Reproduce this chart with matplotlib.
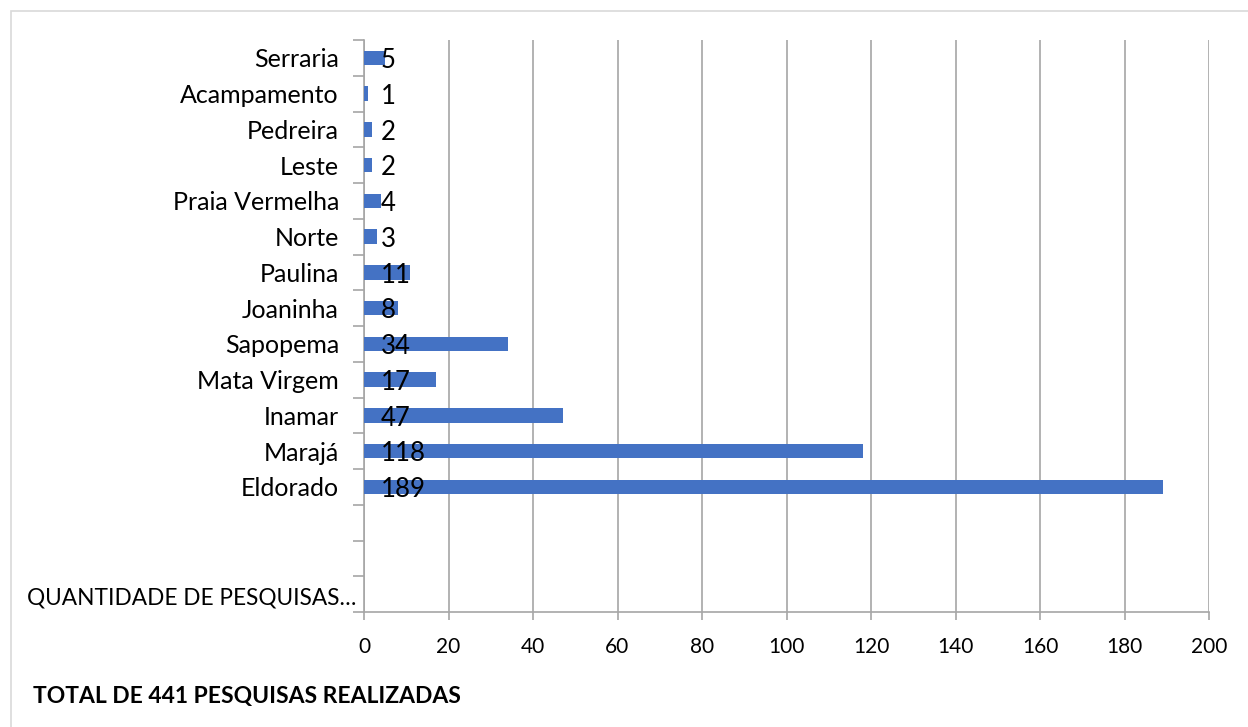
import matplotlib
matplotlib.use("Agg")
import matplotlib.pyplot as plt
from matplotlib.patches import Rectangle
from matplotlib.transforms import ScaledTranslation
import numpy as np

plt.rcParams['font.family'] = ['Lato', 'DejaVu Sans']

categories = ["Serraria", "Acampamento", "Pedreira", "Leste", "Praia Vermelha",
              "Norte", "Paulina", "Joaninha", "Sapopema", "Mata Virgem",
              "Inamar", "Marajá", "Eldorado"]
values = [5, 1, 2, 2, 4, 3, 11, 8, 34, 17, 47, 118, 189]
extra_labels = ["", "", "QUANTIDADE DE PESQUISAS…"]
x_ticks = list(range(0, 201, 20))
footer = "TOTAL DE 441 PESQUISAS REALIZADAS"

W, H = 1248, 727
fig = plt.figure(figsize=(W / 100, H / 100), dpi=100)
fig.patch.set_facecolor("white")

# outer chart border
fig.patches.append(Rectangle((11 / W, -0.1), 1.2, 1 - 11 / H + 0.1,
                             transform=fig.transFigure, fill=False,
                             edgecolor="#D9D9D9", linewidth=1.2))

ax = fig.add_axes([364 / W, 1 - 612 / H, (1209 - 364) / W, (612 - 40) / H])

all_labels = categories + extra_labels
n = len(all_labels)
ypos = np.arange(len(categories))
ax.barh(ypos, values, height=0.4, color="#4472C4", zorder=3)

for y, v in zip(ypos, values):
    ax.annotate(str(v), xy=(0, y), xytext=(12, -2), textcoords="offset points",
                ha="left", va="center", fontsize=18.5, color="black", zorder=4)

ax.set_ylim(n - 0.5, -0.5)
ax.set_xlim(0, 200)
ax.set_yticks(np.arange(n))
ax.set_yticklabels(all_labels, fontsize=18)
ax.set_yticks(np.arange(n + 1) - 0.5, minor=True)
ax.tick_params(axis="y", which="major", length=0, pad=18)
ax.tick_params(axis="y", which="minor", length=8, width=1.2, color="#A6A6A6")

# the long last label sits closer to the axis
last = ax.get_yticklabels()[-1]
last.set_fontsize(16.3)
last.set_transform(last.get_transform() + ScaledTranslation(17 / 100, -2 / 100, fig.dpi_scale_trans))

ax.set_xticks(x_ticks)
ax.tick_params(axis="x", which="major", length=6, width=1.2, color="#A6A6A6",
               labelsize=15, pad=12)
ax.grid(axis="x", color="#A6A6A6", linewidth=1.2, zorder=0)

for s in ["top", "right"]:
    ax.spines[s].set_visible(False)
for s in ["left", "bottom"]:
    ax.spines[s].set_color("#A6A6A6")
    ax.spines[s].set_linewidth(1.2)

fig.text(33 / W, 1 - 697 / H, footer, fontsize=16.45, fontweight="bold",
         ha="left", va="center")

fig.savefig("out.png", dpi=100, facecolor="white")
